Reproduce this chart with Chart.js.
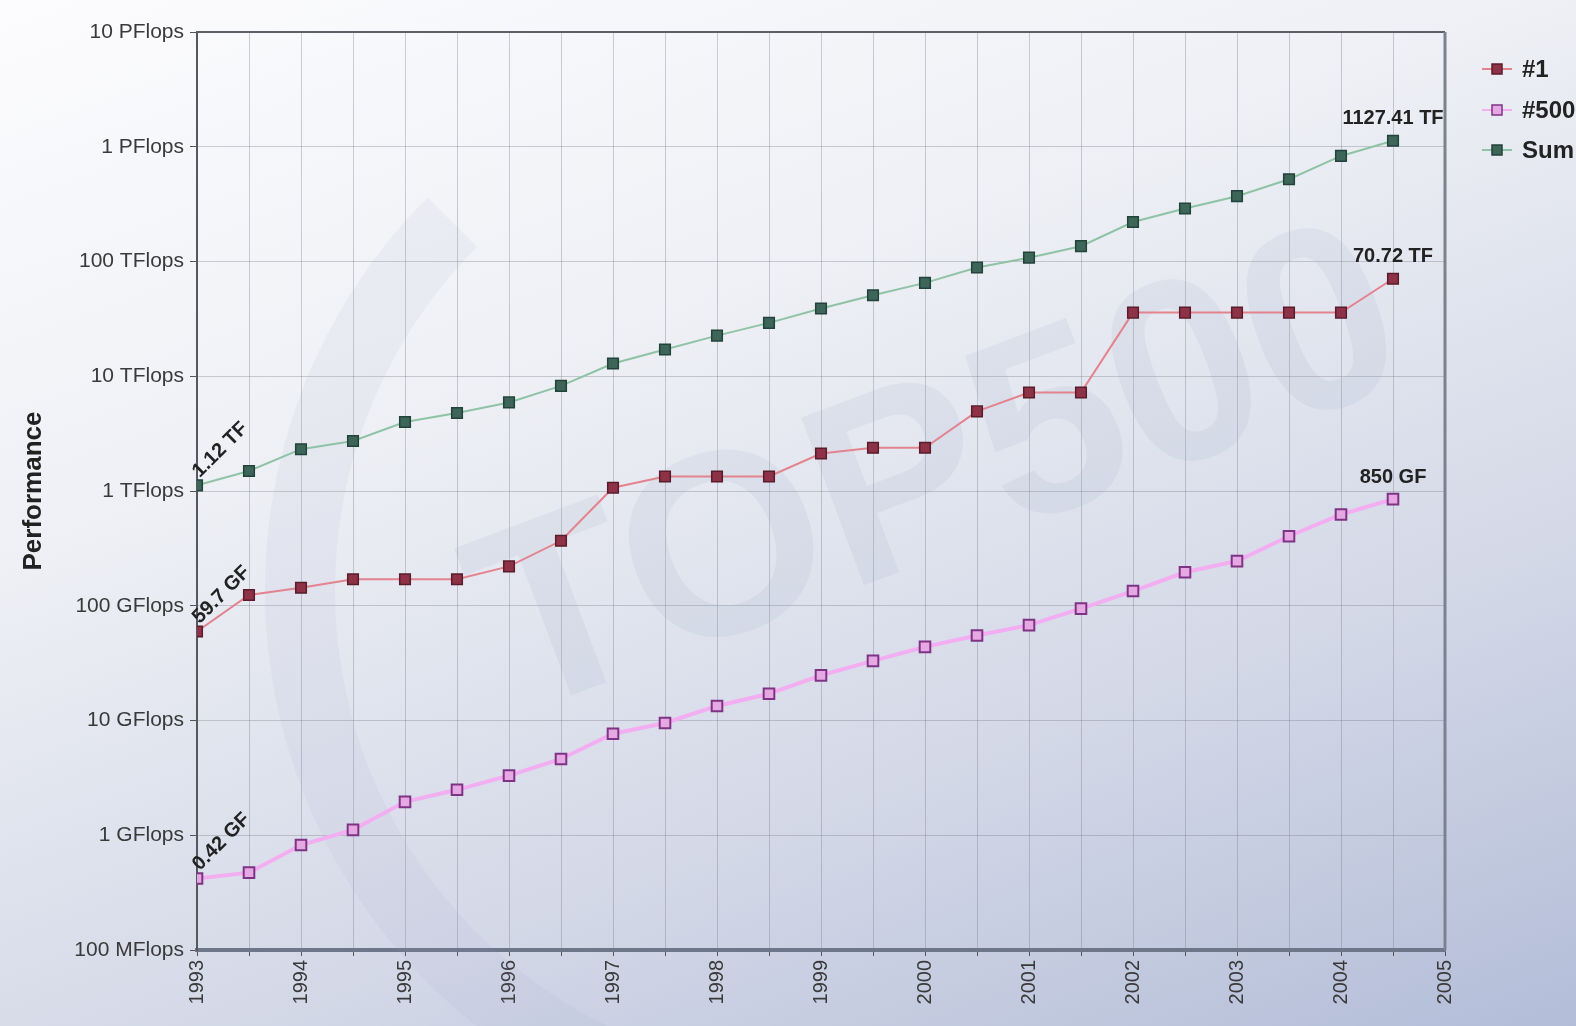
<!DOCTYPE html>
<html>
<head>
<meta charset="utf-8">
<title>TOP500 Performance</title>
<script src="https://cdn.jsdelivr.net/npm/chart.js@4/dist/chart.umd.min.js"></script>
<style>
    html, body {
        margin: 0;
        padding: 0;
        width: 1576px;
        height: 1026px;
        overflow: hidden;
    }
    body {
        background: linear-gradient(160deg, #fcfcfe 0%, #eef0f5 35%, #d3d8e7 70%, #b3bdd8 100%);
    }
    #wrap {
        position: relative;
        width: 1576px;
        height: 1026px;
    }
</style>
</head>
<body>
<div id="wrap">
    <canvas id="perfChart" width="1576" height="1026"></canvas>
</div>
<script>
// Listas TOP500 (junho / novembro), valores em GFlops
const years = [1993, 1993.5, 1994, 1994.5, 1995, 1995.5, 1996, 1996.5, 1997, 1997.5, 1998, 1998.5,
               1999, 1999.5, 2000, 2000.5, 2001, 2001.5, 2002, 2002.5, 2003, 2003.5, 2004, 2004.5];
const rank1 = [59.7, 124, 143.4, 170, 170, 170, 220.4, 368.2, 1068, 1338, 1338, 1338,
               2121, 2379, 2379, 4938, 7226, 7226, 35860, 35860, 35860, 35860, 35860, 70720];
const rank500 = [0.42, 0.472, 0.822, 1.114, 1.955, 2.489, 3.306, 4.62, 7.67, 9.51, 13.39, 17.12,
                 24.73, 33.1, 43.82, 55.1, 67.78, 94.3, 134.3, 195.8, 245.1, 403.4, 624, 850];
const sumPerf = [1120, 1493, 2314, 2727, 3992, 4781, 5914, 8235, 12914, 17100, 22600, 29200,
                 38900, 50800, 65100, 88700, 108000, 136000, 221000, 290000, 371000, 521000, 832000, 1127410];

const seriesNames = ['#1', '#500', 'Sum'];
const startLabels = ['59.7 GF', '0.42 GF', '1.12 TF'];
const endLabels = ['70.72 TF', '850 GF', '1127.41 TF'];

const yTickValues = [0.1, 1, 10, 100, 1e3, 1e4, 1e5, 1e6, 1e7];
const yTickLabels = ['100 MFlops', '1 GFlops', '10 GFlops', '100 GFlops', '1 TFlops',
                     '10 TFlops', '100 TFlops', '1 PFlops', '10 PFlops'];
const xMin = 1993;
const xMax = 2005;

const FONT = "'Liberation Sans', Arial, sans-serif";

function toPoints(values) {
    return values.map((v, i) => ({ x: years[i], y: v }));
}

// Marca d'água TOP500 ao fundo
const watermark = {
    id: 'watermark',
    beforeDatasetsDraw(chart) {
        const ctx = chart.ctx;
        ctx.save();
        ctx.strokeStyle = 'rgba(150,160,195,0.09)';
        ctx.lineWidth = 70;
        ctx.beginPath();
        ctx.arc(820, 590, 520, Math.PI * 0.55, Math.PI * 1.25);
        ctx.stroke();
        ctx.translate(940, 480);
        ctx.rotate(-0.36);
        ctx.font = "bold 260px " + FONT;
        ctx.textAlign = 'center';
        ctx.textBaseline = 'middle';
        ctx.fillStyle = 'rgba(130,145,190,0.10)';
        ctx.fillText('TOP500', 0, 0);
        ctx.restore();
    }
};

// Moldura superior e direita + rótulos dos pontos
const extras = {
    id: 'extras',
    afterDraw(chart) {
        const ctx = chart.ctx;
        const a = chart.chartArea;
        ctx.save();
        ctx.strokeStyle = '#5c5f66';
        ctx.lineWidth = 2;
        ctx.beginPath();
        ctx.moveTo(a.left, a.top);
        ctx.lineTo(a.right, a.top);
        ctx.stroke();
        ctx.strokeStyle = '#7c8190';
        ctx.lineWidth = 3;
        ctx.beginPath();
        ctx.moveTo(a.right, a.top);
        ctx.lineTo(a.right, a.bottom);
        ctx.stroke();

        ctx.fillStyle = '#222';
        ctx.font = "bold 20px " + FONT;
        chart.data.datasets.forEach((ds, i) => {
            const pts = chart.getDatasetMeta(i).data;
            const first = pts[0];
            const last = pts[pts.length - 1];
            ctx.save();
            ctx.translate(first.x + 6, first.y - 4);
            ctx.rotate(-Math.PI / 4);
            ctx.textAlign = 'left';
            ctx.textBaseline = 'bottom';
            ctx.fillText(startLabels[i], 0, 0);
            ctx.restore();
            ctx.textAlign = 'center';
            ctx.textBaseline = 'bottom';
            ctx.fillText(endLabels[i], last.x, last.y - 12);
        });

        // Legenda
        const lx = 1482, tx = 1522;
        const rows = [69, 110, 150];
        chart.data.datasets.forEach((ds, i) => {
            const y = rows[i];
            ctx.strokeStyle = ds.borderColor;
            ctx.lineWidth = 2;
            ctx.beginPath();
            ctx.moveTo(lx, y);
            ctx.lineTo(lx + 30, y);
            ctx.stroke();
            ctx.fillStyle = ds.pointBackgroundColor;
            ctx.strokeStyle = ds.pointBorderColor;
            ctx.lineWidth = 1.5;
            ctx.fillRect(lx + 10, y - 5, 10, 10);
            ctx.strokeRect(lx + 10, y - 5, 10, 10);
            ctx.fillStyle = '#222';
            ctx.font = "bold 24px " + FONT;
            ctx.textAlign = 'left';
            ctx.textBaseline = 'middle';
            ctx.fillText(ds.label, tx, y + 1);
        });
        ctx.restore();
    }
};

const ctx = document.getElementById('perfChart');
new Chart(ctx, {
    type: 'line',
    data: {
        datasets: [
            {
                label: seriesNames[0],
                data: toPoints(rank1),
                borderColor: '#e3838e',
                borderWidth: 2,
                pointStyle: 'rect',
                pointRadius: 7.5,
                pointBackgroundColor: '#8e3347',
                pointBorderColor: '#5a1c2b',
                pointBorderWidth: 1.5
            },
            {
                label: seriesNames[1],
                data: toPoints(rank500),
                borderColor: '#f2aef0',
                borderWidth: 4,
                pointStyle: 'rect',
                pointRadius: 7.5,
                pointBackgroundColor: '#e6a8e2',
                pointBorderColor: '#7e3384',
                pointBorderWidth: 2
            },
            {
                label: seriesNames[2],
                data: toPoints(sumPerf),
                borderColor: '#8fc3a5',
                borderWidth: 2,
                pointStyle: 'rect',
                pointRadius: 7.5,
                pointBackgroundColor: '#3d6658',
                pointBorderColor: '#23423a',
                pointBorderWidth: 1.5
            }
        ]
    },
    options: {
        responsive: false,
        animation: false,
        layout: {
            padding: { top: 32, right: 131, left: 0, bottom: 0 }
        },
        plugins: {
            legend: { display: false },
            tooltip: { enabled: false }
        },
        scales: {
            x: {
                type: 'linear',
                min: xMin,
                max: xMax,
                afterBuildTicks: function(scale) {
                    const ticks = [];
                    for (let i = 0; i <= (xMax - xMin) * 2; i++) {
                        ticks.push({ value: xMin + i / 2 });
                    }
                    scale.ticks = ticks;
                },
                afterFit: function(scale) {
                    scale.height = 76;
                },
                ticks: {
                    minRotation: 90,
                    maxRotation: 90,
                    autoSkip: false,
                    padding: 4,
                    color: '#3a3a3a',
                    font: { family: FONT, size: 20 },
                    callback: function(value) {
                        return Number.isInteger(value) ? String(value) : '';
                    }
                },
                grid: {
                    color: 'rgba(110,112,125,0.32)',
                    lineWidth: 1,
                    tickLength: 6,
                    tickColor: '#555'
                },
                border: { color: '#6e7689', width: 4 }
            },
            y: {
                type: 'logarithmic',
                min: yTickValues[0],
                max: yTickValues[yTickValues.length - 1],
                afterBuildTicks: function(scale) {
                    scale.ticks = yTickValues.map(v => ({ value: v }));
                },
                afterFit: function(scale) {
                    scale.width = 197;
                },
                ticks: {
                    padding: 6,
                    color: '#3a3a3a',
                    font: { family: FONT, size: 21 },
                    callback: function(value) {
                        const idx = yTickValues.indexOf(value);
                        return idx >= 0 ? yTickLabels[idx] : '';
                    }
                },
                grid: {
                    color: 'rgba(110,112,125,0.32)',
                    lineWidth: 1,
                    tickLength: 7,
                    tickColor: '#555'
                },
                border: { color: '#55585f', width: 2 },
                title: {
                    display: true,
                    text: 'Performance',
                    color: '#222',
                    font: { family: FONT, size: 26, weight: 'bold' },
                    padding: { top: 18, bottom: 0 }
                }
            }
        }
    },
    plugins: [watermark, extras]
});
</script>
</body>
</html>
